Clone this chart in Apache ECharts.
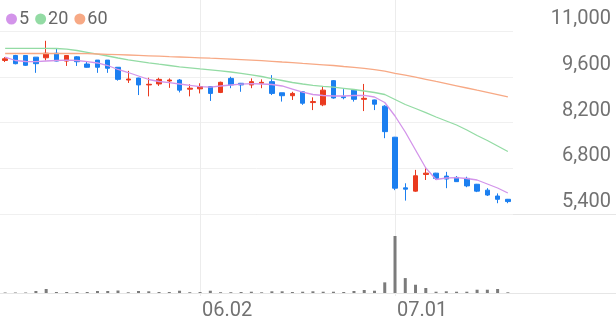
<!DOCTYPE html>
<html>
<head>
<meta charset="utf-8">
<script src="https://cdn.jsdelivr.net/npm/echarts@6/dist/echarts.min.js"></script>
<style>
html,body{margin:0;padding:0;background:#fff;}
#chart{width:616px;height:321px;}
</style>
</head>
<body>
<div id="chart"></div>
<script>
const dates = ['05.02','05.07','05.08','05.09','05.12','05.13','05.14','05.15','05.16','05.19',
  '05.20','05.21','05.22','05.23','05.26','05.27','05.28','05.29','05.30','06.02',
  '06.04','06.05','06.09','06.10','06.11','06.12','06.13','06.16','06.17','06.18',
  '06.19','06.20','06.23','06.24','06.25','06.26','06.27','06.30','07.01','07.02',
  '07.03','07.04','07.07','07.08','07.09','07.10','07.11','07.14','07.15','07.16'];
const opens  = [10100,10250,10250,10200,10180,10320,10080,10210,9990,10110,
  10110,9890,9500,9560,9350,9380,9470,9500,9220,9230,
  9300,9120,9550,9400,9350,9400,9450,9110,9020,9140,
  8810,8740,9480,8990,9190,8910,8890,8700,7750,6200,
  6100,6610,6650,6560,6520,6490,6310,6130,5950,5850];
const closes = [10150,10000,9950,10000,10320,10080,10250,10060,9890,9890,
  9860,9520,9530,9350,9370,9520,9500,9190,9250,9300,
  9090,9430,9350,9350,9450,9430,9090,9020,9090,8790,
  8840,9190,8950,8960,8910,8940,8760,7920,6190,6160,
  6570,6650,6490,6470,6390,6260,6100,5980,5850,5780];
const lows   = [10050,9980,9930,9720,10100,10070,9930,9930,9880,9720,
  9720,9480,9410,9040,9000,9320,9260,9120,9000,9090,
  8860,9100,9250,9140,9250,9250,9040,8840,8890,8740,
  8580,8700,8930,8910,8840,8550,8580,7720,6130,5810,
  6080,6440,6440,6190,6380,6220,6070,5950,5730,5730];
const highs  = [10200,10270,10250,10200,10700,10470,10260,10230,10060,10110,
  10110,9890,9780,9570,9570,9570,9550,9530,9370,9400,
  9300,9450,9600,9410,9550,9520,9650,9110,9140,9160,
  8970,9300,9500,9220,9200,9380,8900,8730,7760,6340,
  6750,6800,6660,6690,6560,6540,6320,6190,6030,5860];
const ma5  = [10204,10097,10067,10060,10082,10097,10106,10097,10060,10021,
  9944,9822,9730,9623,9516,9455,9418,9378,9338,9295,
  9280,9317,9348,9372,9387,9378,9363,9317,9225,9133,
  9057,9026,9011,9011,9026,9032,8980,8812,8399,7909,
  7358,6808,6456,6502,6511,6486,6440,6318,6196,6043];
const ma20 = [10470,10470,10470,10470,10470,10464,10443,10403,10348,10290,
  10235,10174,10119,10073,10027,9984,9944,9904,9874,9843,
  9813,9782,9745,9705,9660,9608,9546,9485,9424,9378,
  9338,9308,9280,9246,9210,9164,9118,9057,8904,8751,
  8628,8500,8368,8246,8123,7970,7802,7649,7481,7313];
const ma60 = [10311,10311,10311,10311,10311,10311,10311,10311,10305,10296,
  10287,10278,10265,10253,10241,10229,10216,10204,10192,10180,
  10167,10155,10140,10125,10109,10091,10073,10051,10030,10008,
  9987,9966,9944,9914,9886,9855,9819,9770,9705,9647,
  9586,9522,9455,9390,9323,9256,9188,9121,9054,8986];
const volumes = [50,50,50,200,400,100,100,100,100,200,
  200,250,70,200,170,100,100,230,80,100,
  230,80,80,100,130,70,170,170,100,130,
  170,130,130,100,200,300,230,1070,5730,1500,
  830,500,130,170,130,130,330,330,400,70];
const yTicks = [5400,6800,8200,9600,11000];
const dateLabels = ['06.02','07.01'];
const maNames = ['5','20','60'];

const UP = '#ea3a1f', DOWN = '#1b7ff0';
const MA_COLORS = ['#d394ea','#93dba4','#f7a985'];
const LABEL_COLOR = '#727272';
const FONT = 'Roboto';

const chart = echarts.init(document.getElementById('chart'), null, {renderer:'canvas'});
const fmt = v => String(v).replace(/\B(?=(\d{3})+(?!\d))/g, ',');
const candleData = dates.map((d,i)=>[opens[i],closes[i],lows[i],highs[i]]);
const showDate = (idx, val) => dateLabels.indexOf(val) >= 0;

chart.setOption({
  animation:false,
  backgroundColor:'#fff',
  legend:{
    left:1, top:5, icon:'circle', itemWidth:11, itemHeight:11, itemGap:6,
    data:maNames,
    textStyle:{fontSize:18, color:'#666', fontFamily:FONT, padding:[0,0,0,-3]}
  },
  grid:[
    {left:0, width:513, top:31, height:183},
    {left:0, width:513, top:236, height:57},
    {left:5.13, width:502.74, top:0, height:300}
  ],
  xAxis:[
    {type:'category', gridIndex:0, data:dates, show:false, boundaryGap:true},
    {type:'category', gridIndex:1, data:dates, show:false, boundaryGap:true},
    {type:'category', gridIndex:2, data:dates, boundaryGap:false,
      axisLine:{show:false}, axisTick:{show:false},
      splitLine:{show:true, interval:showDate, lineStyle:{color:'#ececec', width:1}},
      axisLabel:{interval:showDate, align:'left', margin:5, fontSize:20, color:LABEL_COLOR, fontFamily:FONT, padding:[0,0,0,2]}
    }
  ],
  yAxis:[
    {type:'value', gridIndex:0, position:'right', min:yTicks[0], max:yTicks[yTicks.length-1],
      interval:yTicks[1]-yTicks[0],
      axisLine:{show:false}, axisTick:{show:false},
      splitLine:{show:true, lineStyle:{color:'#f0f0f0', width:1}},
      axisLabel:{formatter:fmt, margin:98, align:'right', verticalAlign:'bottom', padding:[0,0,2,0],
        fontSize:20, color:LABEL_COLOR, fontFamily:FONT}
    },
    {type:'value', gridIndex:1, min:0, max:'dataMax', show:false},
    {type:'value', gridIndex:2, show:false}
  ],
  graphic:[
    {type:'line', shape:{x1:0,y1:214.5,x2:616,y2:214.5}, style:{stroke:'#e6e6e6', lineWidth:1}, z:-1},
    {type:'line', shape:{x1:0,y1:293.5,x2:616,y2:293.5}, style:{stroke:'#e6e6e6', lineWidth:1}, z:-1}
  ],
  series:[
    {type:'candlestick', name:'price', xAxisIndex:0, yAxisIndex:0, data:candleData, barWidth:5,
      itemStyle:{color:UP, color0:DOWN, borderColor:UP, borderColor0:DOWN, borderWidth:1}, z:3},
    {type:'line', name:maNames[0], xAxisIndex:0, yAxisIndex:0, data:ma5, symbol:'none',
      lineStyle:{color:MA_COLORS[0], width:1.3}, itemStyle:{color:MA_COLORS[0]}, z:4},
    {type:'line', name:maNames[1], xAxisIndex:0, yAxisIndex:0, data:ma20, symbol:'none',
      lineStyle:{color:MA_COLORS[1], width:1.3}, itemStyle:{color:MA_COLORS[1]}, z:4},
    {type:'line', name:maNames[2], xAxisIndex:0, yAxisIndex:0, data:ma60, symbol:'none',
      lineStyle:{color:MA_COLORS[2], width:1.3}, itemStyle:{color:MA_COLORS[2]}, z:4},
    {type:'bar', name:'volume', xAxisIndex:1, yAxisIndex:1, data:volumes, barWidth:3,
      itemStyle:{color:'#7b7b7b'}}
  ]
});
</script>
</body>
</html>
